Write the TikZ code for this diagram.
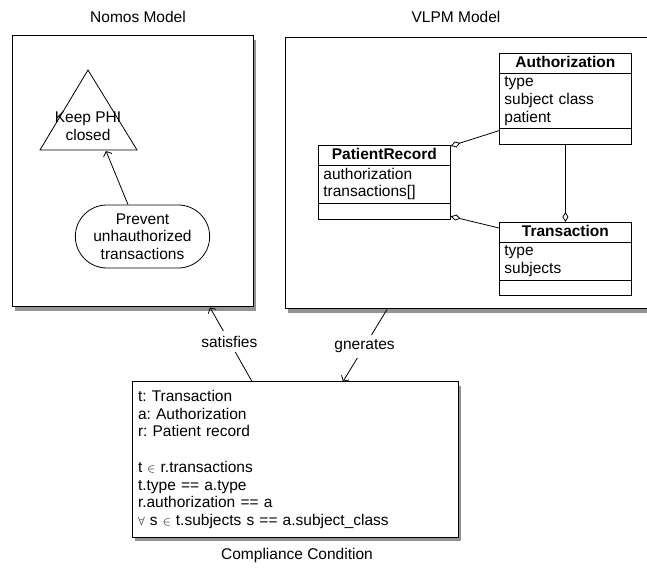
\documentclass[tikz,border=0pt]{standalone}
\usepackage{fontspec}
\setmainfont{Liberation Sans}
\usepackage{xcolor}
\definecolor{ShadeGrey}{HTML}{3A3A3A}
\usetikzlibrary{arrows.meta,positioning,calc,shapes.misc,shapes.multipart,shadows}
\newcommand\umlstrut{\rule[-4pt]{0pt}{15pt}}
\frenchspacing

\begin{document}
\begin{tikzpicture}[
  x=1pt, y=1pt,
  font=\fontsize{15.5}{17.7}\selectfont,
  panel/.style={draw, line width=1pt, fill=white,
                drop shadow={shadow xshift=2.5pt, shadow yshift=-4pt,
                             fill=ShadeGrey, opacity=0.55}},
  cls/.style={draw, line width=0.8pt, fill=white, anchor=north west,
              rectangle split, rectangle split parts=3, text width=122pt,
              align=left, inner xsep=5pt, inner ysep=2pt},
  goalshape/.style={draw, line width=0.8pt},
  soft/.style={draw, rounded rectangle, line width=0.8pt, fill=white,
               minimum width=141pt, minimum height=63pt, align=center},
  lbl/.style={fill=white, inner sep=5pt},
  arr/.style={-{Straight Barb[length=4pt,width=9pt]}, line width=0.8pt},
  agg/.style={{Diamond[open,length=10pt,width=6pt]}-, line width=0.8pt},
  aggend/.style={-{Diamond[open,length=10pt,width=6pt]}, line width=0.8pt}
]
  \useasboundingbox (0,0) rectangle (647,573);

  \node (nomoshead) at (138,556) {Nomos Model};
  \node (vlpmhead) at (456,556) {VLPM Model};
  \node (condhead) at (297,18) {Compliance Condition};

  \node[panel, minimum width=241pt, minimum height=271pt] (nomos) at (132.5,401.5) {};
  \node[panel, minimum width=367pt, minimum height=271pt] (vlpm) at (468.5,399.5) {};

  \draw[goalshape] (88,503) -- (137,423) -- (40,423) -- cycle;
  \node[align=center] (goal) at (88,447) {Keep PHI\\closed};
  \coordinate (goalbase) at (106,422);
  \node[soft] (prevent) at (142.5,336.5) {Prevent\\unhauthorized\\transactions};
  \draw[arr] ([xshift=-14.5pt]prevent.north) -- (goalbase);

  \node[cls] (auth) at (499,520)
    {\makebox[122pt]{\bfseries\umlstrut Authorization}
     \nodepart{two}\umlstrut type\\subject class\\patient\umlstrut
     \nodepart{three}\rule{0pt}{11pt}};
  \node[cls] (record) at (318,428)
    {\makebox[122pt]{\bfseries\umlstrut PatientRecord}
     \nodepart{two}\umlstrut authorization\\transactions[]\umlstrut
     \nodepart{three}\rule{0pt}{11pt}};
  \node[cls] (trans) at (499,351)
    {\makebox[122pt]{\bfseries\umlstrut Transaction}
     \nodepart{two}\umlstrut type\\subjects\umlstrut
     \nodepart{three}\rule{0pt}{11pt}};
  \draw[agg] ([yshift=-1pt]record.north east) -- ([yshift=-2pt]auth.two split west);
  \draw[agg] ([yshift=3pt]record.south east) -- ([yshift=-6pt]trans.north west);
  \draw[aggend] (auth.south) -- (trans.north);

  \node[panel, minimum width=326pt, minimum height=155pt, text width=314pt,
        align=left] (cond) at (295,113.5)
    {t: Transaction\\a: Authorization\\r: Patient record\\[17.7pt]
     t {\fontsize{13}{13}\selectfont$\in$} r.transactions\\
     t.type == a.type\\
     r.authorization == a\\
     {\fontsize{13}{13}\selectfont$\forall$} s {\fontsize{13}{13}\selectfont$\in$} t.subjects s == a.subject\_class};

  \draw[arr] ([xshift=-43pt]cond.north) -- node[lbl, pos=0.54] (satlbl) {satisfies}
    ([xshift=77.5pt]nomos.south);
  \draw[arr] ([xshift=-81.5pt]vlpm.south) -- node[lbl, pos=0.51] (genlbl) {gnerates}
    ([xshift=48pt]cond.north);
\end{tikzpicture}
\end{document}
